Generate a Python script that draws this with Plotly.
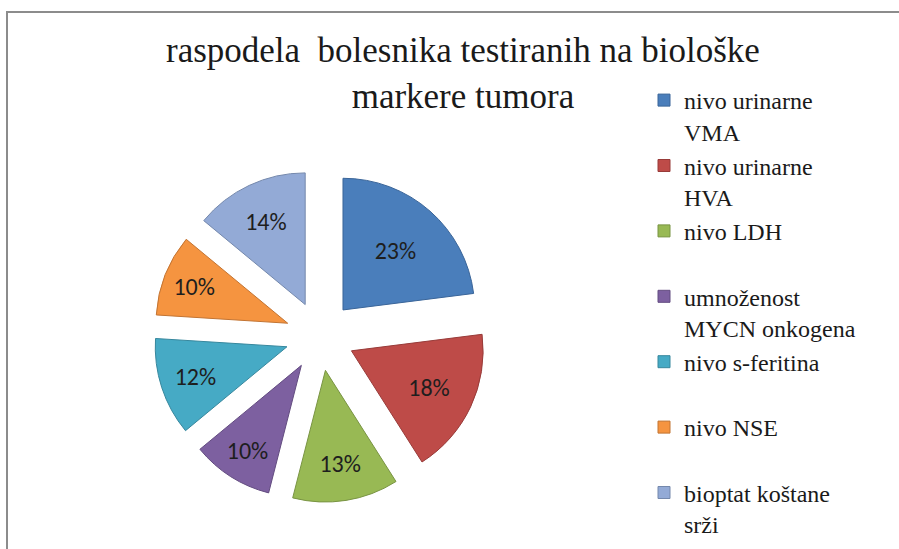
import plotly.graph_objects as go

labels = [
    "nivo urinarne<br>VMA",
    "nivo urinarne<br>HVA",
    "nivo LDH<br> ",
    "umnoženost<br>MYCN onkogena",
    "nivo s-feritina<br> ",
    "nivo NSE<br> ",
    "bioptat koštane<br>srži",
]
values = [23, 18, 13, 10, 12, 10, 14]
colors = ["#4A7EBB", "#BE4B48", "#98B954", "#7D60A0", "#46AAC5", "#F59440", "#93AAD6"]
edge_colors = ["#3A6599", "#983B39", "#799443", "#634C80", "#37879D", "#C27433", "#7488AC"]
title_text = "raspodela  bolesnika testiranih na biološke<br>markere tumora"

W, H = 899, 549
SERIF = "Liberation Serif"

fig = go.Figure()
fig.add_trace(go.Pie(
    labels=labels,
    values=values,
    sort=False,
    direction="clockwise",
    rotation=0,
    pull=[0.264] * len(values),
    marker=dict(colors=colors, line=dict(color=edge_colors, width=1)),
    textinfo="percent",
    texttemplate="%{percent:.0%}",
    textposition="inside",
    insidetextorientation="horizontal",
    textfont=dict(family=SERIF, size=24, color="#1A1A1A"),
    insidetextfont=dict(family="Carlito", size=24, color="#1E1E1E"),
    domain=dict(x=[0.1700, 0.5419], y=[0.0848, 0.6911]),
    hoverinfo="label+percent",
))

fig.update_layout(
    width=W, height=H,
    margin=dict(l=0, r=0, t=0, b=0),
    paper_bgcolor="white",
    plot_bgcolor="white",
    font=dict(family=SERIF, size=24, color="#1A1A1A"),
    showlegend=True,
    legend=dict(
        x=644 / W, xanchor="left",
        y=1 - 78 / H, yanchor="top",
        valign="top",
        font=dict(family=SERIF, size=24, color="#1A1A1A"),
        bgcolor="rgba(0,0,0,0)",
        tracegroupgap=0,
    ),
    annotations=[dict(
        text=title_text,
        x=463 / W, y=1 - 29 / H, xref="paper", yref="paper",
        xanchor="center", yanchor="top", showarrow=False,
        font=dict(family=SERIF, size=35, color="#1A1A1A"),
    )],
    shapes=[dict(
        type="rect", xref="paper", yref="paper",
        x0=7 / W, x1=1.05, y0=-0.05, y1=1 - 12 / H,
        line=dict(color="#8C8C8C", width=2),
        fillcolor="rgba(0,0,0,0)",
        layer="below",
    )],
)

fig.write_html(
    "out.html",
    config={"displayModeBar": False},
    post_script="document.body.style.margin='0';document.body.style.overflow='hidden';",
)
